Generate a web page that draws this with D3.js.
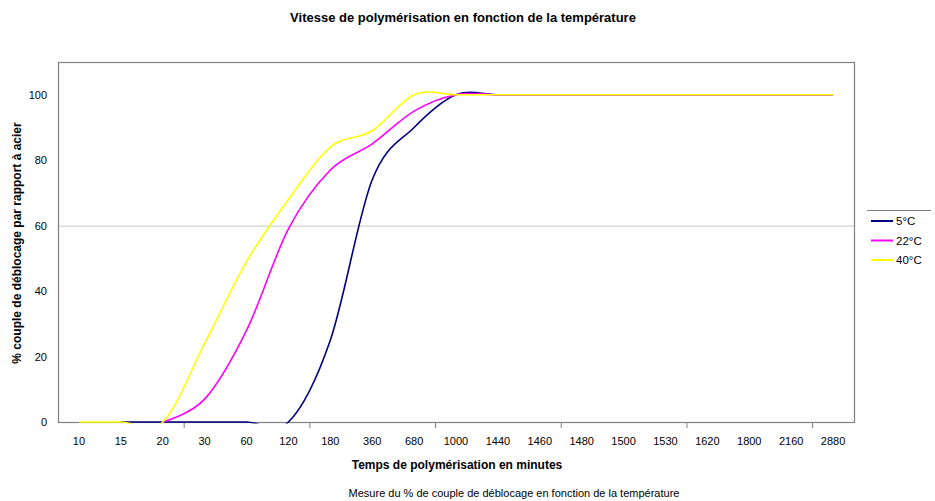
<!DOCTYPE html>
<html>
<head>
<meta charset="utf-8">
<script src="https://cdn.jsdelivr.net/npm/d3@7"></script>
<style>
  body { margin: 0; background: #fff; }
  text { font-family: "Liberation Sans", Arial, sans-serif; fill: #000; }
</style>
</head>
<body>
<script>
// temps (minutes), axe par catégories comme dans Excel
var temps = ["10", "15", "20", "30", "60", "120", "180", "360", "680", "1000",
  "1440", "1460", "1480", "1500", "1530", "1620", "1800", "2160", "2880"];
var serie5 = [null, 0, 0, 0, 0, 0, 25, 74, 90, 100, 100, 100, 100, 100, 100, 100, 100, 100, 100];
var serie22 = [null, null, 0, 7, 28, 59, 77, 85, 95, 100, 100, 100, 100, 100, 100, 100, 100, 100, 100];
var serie40 = [0, 0, 0, 24, 49, 68, 84, 89, 100, 100, 100, 100, 100, 100, 100, 100, 100, 100, 100];
var yTicks = [0, 20, 40, 60, 80, 100];
var series = [
  { nom: "5°C", valeurs: serie5, couleur: "#000080" },
  { nom: "22°C", valeurs: serie22, couleur: "#ff00ff" },
  { nom: "40°C", valeurs: serie40, couleur: "#ffff00" }
];

var width = 935, height = 501;
var gauche = 58, droite = 854, haut = 62, bas = 422;

var svg = d3.select("body").append("svg")
  .attr("width", width)
  .attr("height", height);

var x = d3.scaleBand().domain(temps).range([gauche, droite]).padding(0);
var y = d3.scaleLinear().domain([0, 110]).range([bas, haut]);

// grille a 60
svg.append("line")
  .attr("x1", gauche).attr("x2", droite)
  .attr("y1", y(60) + 0.5).attr("y2", y(60) + 0.5)
  .attr("stroke", "#c8c8c8").attr("stroke-width", 1);

// cadre
svg.append("rect")
  .attr("x", gauche + 0.5).attr("y", haut + 0.5)
  .attr("width", droite - gauche).attr("height", bas - haut)
  .attr("fill", "none").attr("stroke", "#808080").attr("stroke-width", 1.2);

svg.append("clipPath").attr("id", "zone")
  .append("rect")
  .attr("x", gauche).attr("y", haut)
  .attr("width", droite - gauche).attr("height", bas - haut + 1.5);

var line = d3.line()
  .defined(function(d) { return d != null; })
  .x(function(d, i) { return x(temps[i]) + x.bandwidth() / 2; })
  .y(function(d) { return y(d); })
  .curve(d3.curveCardinal.tension(0));

svg.append("g").attr("clip-path", "url(#zone)")
  .selectAll("path")
  .data(series)
  .enter()
  .append("path")
  .attr("d", function(d) { return line(d.valeurs); })
  .attr("fill", "none")
  .attr("stroke", function(d) { return d.couleur; })
  .attr("stroke-width", 1.6);

// axe x
svg.append("g")
  .selectAll("line")
  .data(d3.range(3, temps.length, 3))
  .enter()
  .append("line")
  .attr("x1", function(i) { return x(temps[i]) + 0.5; })
  .attr("x2", function(i) { return x(temps[i]) + 0.5; })
  .attr("y1", bas + 1).attr("y2", bas + 6)
  .attr("stroke", "#808080");

svg.append("g")
  .selectAll("text")
  .data(temps)
  .enter()
  .append("text")
  .attr("x", function(d) { return x(d) + x.bandwidth() / 2; })
  .attr("y", 445)
  .attr("text-anchor", "middle")
  .style("font-size", "11px")
  .text(function(d) { return d; });

// axe y
svg.append("g")
  .selectAll("text")
  .data(yTicks)
  .enter()
  .append("text")
  .attr("x", 47)
  .attr("y", function(d) { return y(d) + 4; })
  .attr("text-anchor", "end")
  .style("font-size", "11px")
  .text(function(d) { return d; });

// titres
svg.append("text")
  .attr("x", 463).attr("y", 22)
  .attr("text-anchor", "middle")
  .style("font-size", "13px").style("font-weight", "bold")
  .text("Vitesse de polymérisation en fonction de la température");

svg.append("text")
  .attr("x", 457).attr("y", 469)
  .attr("text-anchor", "middle")
  .style("font-size", "12px").style("font-weight", "bold")
  .text("Temps de polymérisation en minutes");

svg.append("text")
  .attr("transform", "translate(21,243) rotate(-90)")
  .attr("text-anchor", "middle")
  .style("font-size", "12px").style("font-weight", "bold")
  .text("% couple de déblocage par rapport à acier");

svg.append("text")
  .attr("x", 514).attr("y", 497)
  .attr("text-anchor", "middle")
  .style("font-size", "11px")
  .text("Mesure du % de couple de déblocage en fonction de la température");

// legende
svg.append("line")
  .attr("x1", 867).attr("x2", 931)
  .attr("y1", 210.5).attr("y2", 210.5)
  .attr("stroke", "#808080").attr("stroke-width", 1.2);

var leg = svg.append("g")
  .selectAll("g")
  .data(series)
  .enter()
  .append("g")
  .attr("transform", function(d, i) { return "translate(871," + (221 + i * 19.5) + ")"; });

leg.append("line")
  .attr("x1", 0).attr("x2", 22)
  .attr("stroke", function(d) { return d.couleur; })
  .attr("stroke-width", 2);

leg.append("text")
  .attr("x", 25).attr("y", 4)
  .style("font-size", "11.5px")
  .text(function(d) { return d.nom; });
</script>
</body>
</html>
